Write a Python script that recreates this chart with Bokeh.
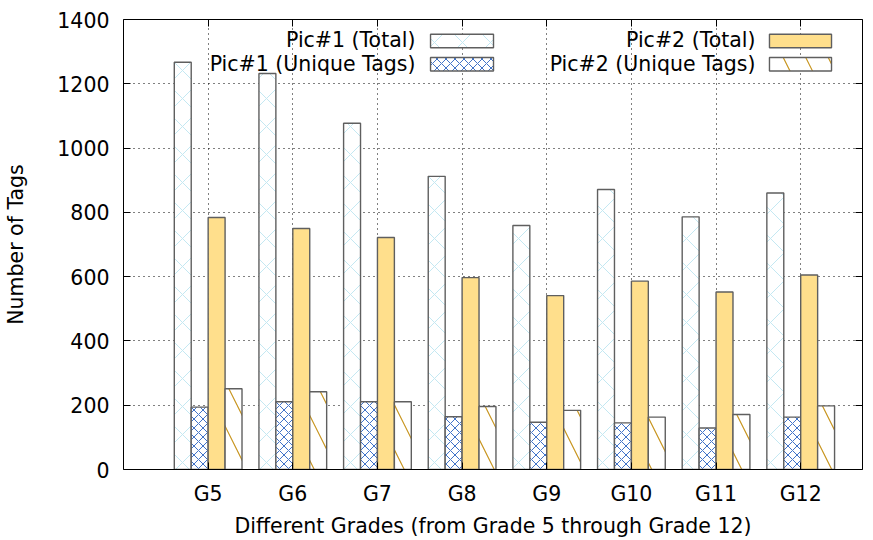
from bokeh.plotting import figure
from bokeh.models import Range1d, FixedTicker, LinearAxis, Label
from bokeh.embed import file_html
from bokeh.resources import INLINE

# ---- data ----
grades = ["G5", "G6", "G7", "G8", "G9", "G10", "G11", "G12"]
pic1_total = [1267, 1232, 1077, 912, 759, 871, 786, 860]
pic1_unique = [194, 211, 211, 164, 147, 145, 129, 163]
pic2_total = [784, 750, 722, 597, 541, 586, 552, 605]
pic2_unique = [251, 242, 211, 196, 184, 163, 171, 198]
y_ticks = [0, 200, 400, 600, 800, 1000, 1200, 1400]
series_labels = ["Pic#1 (Total)", "Pic#1 (Unique Tags)", "Pic#2 (Total)", "Pic#2 (Unique Tags)"]

FONT = "DejaVu Sans"
FS = "20.5px"

series_values = [pic1_total, pic1_unique, pic2_total, pic2_unique]
styles = [
    dict(fill_color="white", hatch_pattern="x", hatch_color="#c4e8f2", hatch_scale=28, hatch_weight=1),
    dict(fill_color="white", hatch_pattern="x", hatch_color="#3f72c8", hatch_scale=9, hatch_weight=1),
    dict(fill_color="#ffdf8c"),
    dict(fill_color="white", hatch_pattern="\\", hatch_color="#c8951f", hatch_scale=45, hatch_weight=1.2),
]
offsets = [-0.3, -0.1, 0.1, 0.3]
bar_w = 0.2

p = figure(width=870, height=540, output_backend="svg", toolbar_location=None,
           x_range=Range1d(-1, 7.73), y_range=Range1d(0, 1400),
           min_border_left=123, min_border_right=8, min_border_top=19, min_border_bottom=69)
p.outline_line_color = None
p.background_fill_color = "white"

xs = list(range(len(grades)))
for vals, st, off in zip(series_values, styles, offsets):
    p.vbar(x=[i + off for i in xs], top=vals, bottom=0, width=bar_w,
           line_color="#5f5f5f", line_width=1.4, **st)

# axes
xt = FixedTicker(ticks=xs)
yt = FixedTicker(ticks=y_ticks)
overrides = {i: g for i, g in zip(xs, grades)}

for ax in p.xaxis:
    ax.ticker = xt
    ax.major_label_overrides = overrides
for ax in p.yaxis:
    ax.ticker = yt

for ax in list(p.xaxis) + list(p.yaxis):
    ax.major_tick_in = 7
    ax.major_tick_out = 0
    ax.minor_tick_in = 0
    ax.minor_tick_out = 0
    ax.axis_line_color = "black"
    ax.major_tick_line_color = "black"
    ax.major_label_text_font = FONT
    ax.major_label_text_font_size = FS
    ax.major_label_text_color = "black"
    ax.axis_label_text_font = FONT
    ax.axis_label_text_font_size = FS
    ax.axis_label_text_font_style = "normal"
    ax.axis_label_text_color = "black"

p.xaxis.axis_label = "Different Grades (from Grade 5 through Grade 12)"
p.yaxis.axis_label = "Number of Tags"
p.yaxis.major_label_standoff = 14
p.yaxis.axis_label_standoff = 26
p.xaxis.major_label_standoff = 12
p.xaxis.axis_label_standoff = 5

# mirrored axes (ticks only)
top_ax = LinearAxis(ticker=xt, major_label_text_font_size="0px", major_tick_in=7, major_tick_out=0,
                    minor_tick_in=0, minor_tick_out=0, major_label_standoff=0, axis_line_color="black")
right_ax = LinearAxis(ticker=yt, major_label_text_font_size="0px", major_tick_in=7, major_tick_out=0,
                      minor_tick_in=0, minor_tick_out=0, major_label_standoff=0, axis_line_color="black")
p.add_layout(top_ax, "above")
p.add_layout(right_ax, "right")

# grid
p.xgrid.ticker = xt
p.ygrid.ticker = yt
for g in (p.xgrid, p.ygrid):
    g.grid_line_color = "black"
    g.grid_line_dash = "1 4"
    g.grid_line_width = 1

# legend (gnuplot style: right-aligned text, then sample box)
leg_text_right = [2.449, 2.449, 6.466, 6.466]
leg_box_x = [(2.627, 3.371), (2.627, 3.371), (6.631, 7.364), (6.631, 7.364)]
leg_rows_y = [(1312, 1354, 1336), (1240, 1282, 1262), (1312, 1354, 1336), (1240, 1282, 1262)]
for lab, tx, (bx0, bx1), (by0, by1, ty), st in zip(series_labels, leg_text_right, leg_box_x, leg_rows_y, styles):
    p.quad(left=[bx0], right=[bx1], bottom=[by0], top=[by1], line_color="#5f5f5f", line_width=1.4, **st)
    p.add_layout(Label(x=tx, y=ty, text=lab, text_align="right", text_baseline="middle",
                       text_font=FONT, text_font_size=FS, text_color="black"))

open("out.html", "w").write(file_html(p, INLINE))
